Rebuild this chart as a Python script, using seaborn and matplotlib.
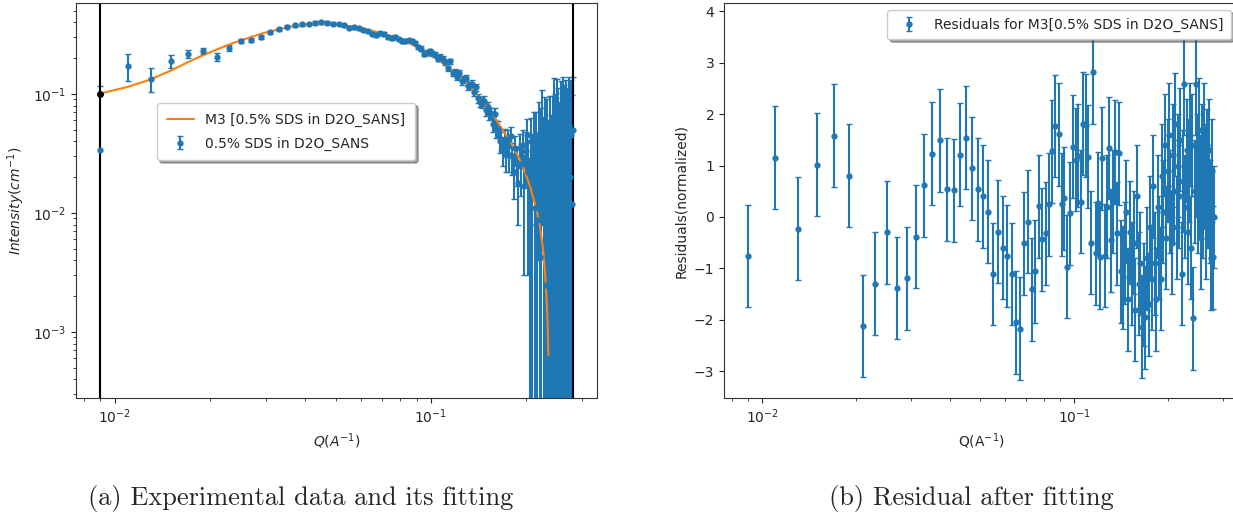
import matplotlib
matplotlib.use("Agg")
import matplotlib.pyplot as plt
import seaborn as sns

# Q grid (1/A) of the measured curve
q = [
    0.009, 0.011, 0.013, 0.015, 0.017, 0.019, 0.021, 0.023, 0.025, 0.027,
    0.029, 0.031, 0.033, 0.035, 0.037, 0.039, 0.041, 0.043, 0.045, 0.047,
    0.049, 0.051, 0.053, 0.055, 0.057, 0.059, 0.061, 0.063, 0.065, 0.067,
    0.069, 0.071, 0.073, 0.075, 0.077, 0.079, 0.081, 0.083, 0.085, 0.087,
    0.089, 0.091, 0.093, 0.095, 0.097, 0.099, 0.101, 0.103, 0.105, 0.107,
    0.109, 0.111, 0.113, 0.115, 0.117, 0.119, 0.121, 0.123, 0.125, 0.127,
    0.129, 0.131, 0.133, 0.135, 0.137, 0.139, 0.141, 0.143, 0.145, 0.147,
    0.149, 0.151, 0.153, 0.155, 0.157, 0.159, 0.161, 0.163, 0.165, 0.167,
    0.169, 0.171, 0.173, 0.175, 0.177, 0.179, 0.181, 0.183, 0.185, 0.187,
    0.189, 0.191, 0.193, 0.195, 0.197, 0.199, 0.201, 0.203, 0.205, 0.207,
    0.209, 0.211, 0.213, 0.215, 0.217, 0.219, 0.221, 0.223, 0.225, 0.227,
    0.229, 0.231, 0.233, 0.235, 0.237, 0.239, 0.241, 0.243, 0.245, 0.247,
    0.249, 0.251, 0.253, 0.255, 0.257, 0.259, 0.261, 0.263, 0.265, 0.267,
    0.269, 0.271, 0.273, 0.275, 0.277, 0.279, 0.281,
]

# measured intensity (1/cm) and its error
intensity = [
    0.034, 0.173, 0.135, 0.189, 0.218, 0.231, 0.206, 0.245, 0.279, 0.284,
    0.303, 0.330, 0.351, 0.368, 0.380, 0.385, 0.388, 0.397, 0.402, 0.397,
    0.390, 0.387, 0.379, 0.362, 0.365, 0.356, 0.347, 0.337, 0.321, 0.313,
    0.323, 0.320, 0.299, 0.295, 0.301, 0.288, 0.281, 0.280, 0.282, 0.279,
    0.269, 0.248, 0.241, 0.219, 0.223, 0.229, 0.220, 0.214, 0.198, 0.206,
    0.198, 0.186, 0.164, 0.188, 0.151, 0.154, 0.139, 0.151, 0.129, 0.133,
    0.137, 0.117, 0.119, 0.122, 0.105, 0.114, 0.092, 0.086, 0.085, 0.088,
    0.074, 0.078, 0.069, 0.069, 0.056, 0.068, 0.051, 0.051, 0.040, 0.042,
    0.034, 0.042, 0.031, 0.041, 0.031, 0.044, 0.030, 0.022, 0.035, 0.026,
    0.018, 0.035, 0.026, 0.037, 0.017, 0.033, 0.045, 0.022, 0.008, 0.040,
    0.020, 0.042, 0.011, 0.035, 0.0087, 0.045, 0.0043, 0.030, 0.058, 0.012,
    0.040, 0.0025, 0.033, 0.00045, 0.035, 0.0032, 0.00039, 0.028, 0.066, 0.030,
    0.020, 0.062, 0.038, 0.010, 0.052, 0.025, 0.060, 0.040, 0.015, 0.050,
    0.030, 0.005, 0.055, 0.020, 0.045, 0.012, 0.050,
]
intensity_err = [
    0.083, 0.045, 0.030, 0.022, 0.018, 0.015, 0.016, 0.013, 0.012, 0.012,
    0.011, 0.011, 0.011, 0.011, 0.011, 0.011, 0.011, 0.011, 0.011, 0.011,
    0.010, 0.010, 0.010, 0.010, 0.010, 0.010, 0.010, 0.010, 0.010, 0.010,
    0.010, 0.010, 0.010, 0.010, 0.010, 0.010, 0.010, 0.010, 0.010, 0.010,
    0.010, 0.010, 0.010, 0.010, 0.010, 0.010, 0.010, 0.010, 0.010, 0.010,
    0.009, 0.009, 0.009, 0.009, 0.009, 0.009, 0.009, 0.009, 0.009, 0.009,
    0.008, 0.008, 0.008, 0.008, 0.008, 0.008, 0.008, 0.008, 0.008, 0.008,
    0.008, 0.008, 0.008, 0.008, 0.008, 0.008, 0.008, 0.008, 0.008, 0.008,
    0.009, 0.009, 0.009, 0.009, 0.009, 0.009, 0.009, 0.009, 0.009, 0.009,
    0.010, 0.011, 0.012, 0.013, 0.014, 0.015, 0.017, 0.019, 0.021, 0.023,
    0.026, 0.029, 0.032, 0.035, 0.038, 0.041, 0.044, 0.047, 0.050, 0.052,
    0.054, 0.056, 0.058, 0.060, 0.062, 0.064, 0.066, 0.068, 0.070, 0.071,
    0.072, 0.073, 0.074, 0.075, 0.076, 0.077, 0.078, 0.079, 0.080, 0.081,
    0.082, 0.083, 0.084, 0.085, 0.086, 0.087, 0.088,
]

# normalized residuals (error is 1 for every point)
residuals = [
    -0.76, 1.15, -0.23, 1.02, 1.58, 0.80, -2.12, -1.30, -0.30, -1.38,
    -1.19, -0.38, 0.62, 1.23, 1.49, 0.54, 0.52, 1.21, 1.54, 0.95,
    0.54, 0.40, 0.10, -1.11, -0.29, -0.60, -0.76, -1.11, -2.05, -2.17,
    -0.51, -0.09, -1.41, -1.06, 0.21, -0.43, -0.32, 0.25, 1.28, 1.77,
    1.61, 0.25, 0.36, -0.97, 0.07, 1.37, 1.11, 1.19, 0.30, 1.81,
    1.78, 1.17, -0.50, 2.81, -0.71, 0.27, -0.78, 1.14, -0.75, 0.20,
    1.34, -0.45, 0.30, 1.27, -0.32, 1.24, -1.06, -1.17, -0.70, 0.10,
    -1.60, -0.30, -1.10, -0.50, -1.80, 0.40, -1.30, -0.90, -2.13, -1.50,
    -1.95, -0.80, -1.70, -0.20, -1.20, 0.60, -0.90, -1.60, 0.20, -0.60,
    -1.20, 0.80, 0.10, 1.40, -0.40, 0.90, 1.60, 0.30, -0.50, 1.20,
    0.50, 1.80, -0.20, 1.00, 0.40, 1.50, -1.10, 0.70, 2.59, 0.20,
    1.30, -0.30, 0.90, 1.60, -0.60, 1.40, -1.97, 0.50, 2.59, 1.00,
    0.30, 1.70, 0.60, -0.40, 1.20, 0.20, 1.60, 0.80, -0.20, 1.10,
    0.40, 1.30, 0.10, -0.80, 0.90, -0.78, 0.00,
]
residual_err = [1.0] * len(residuals)

# fitted model M3 (only the positive part shows on the log axis)
model_q = [0.009, 0.011, 0.013, 0.015, 0.017, 0.019, 0.021, 0.024,
           0.0294, 0.0358, 0.041, 0.0456, 0.051, 0.0582, 0.069, 0.079,
           0.0879, 0.100, 0.112, 0.125, 0.143, 0.161, 0.182, 0.195,
           0.206, 0.215, 0.221, 0.226, 0.2296, 0.232, 0.234, 0.235]
model_i = [0.101, 0.115, 0.133, 0.157, 0.185, 0.212, 0.237, 0.272,
           0.325, 0.368, 0.382, 0.387, 0.383, 0.365, 0.328, 0.292,
           0.258, 0.212, 0.172, 0.136, 0.094, 0.0605, 0.0361, 0.025,
           0.0166, 0.0110, 0.0077, 0.0050, 0.0031, 0.0019, 0.0011, 0.00064]

sns.set_style("ticks")
plt.rcParams["font.family"] = ["DejaVu Sans"]
plt.rcParams["axes.edgecolor"] = "#333333"
blue, orange = sns.color_palette("tab10")[:2]

fig = plt.figure(figsize=(12.33, 5.19), dpi=100)
ax1 = fig.add_axes([0.0616, 0.2331, 0.4226, 0.7611])
ax2 = fig.add_axes([0.5872, 0.2331, 0.4169, 0.7611])

# (a) data and fit
ax1.set_xscale("log")
ax1.set_yscale("log")
ax1.errorbar(q, intensity, yerr=intensity_err, fmt="o", color=blue,
             ms=3.5, capsize=2, label="0.5% SDS in D2O_SANS")
sns.lineplot(x=model_q, y=model_i, ax=ax1, color=orange, lw=1.5,
             sort=False, label="M3 [0.5% SDS in D2O_SANS]")
ax1.axvline(q[0], color="black", lw=1.5)
ax1.axvline(q[-1], color="black", lw=1.5)
ax1.plot(model_q[0], model_i[0], "o", color="black", ms=4)
ax1.set_xlim(0.00753, 0.335)
ax1.set_ylim(2.79e-4, 0.582)
ax1.set_xlabel("$Q(A^{-1})$")
ax1.set_ylabel("$Intensity(cm^{-1})$")
ax1.legend(loc="upper left", bbox_to_anchor=(0.142, 0.765), shadow=True,
           fontsize=10, labelspacing=0.7, borderpad=0.7)

# (b) residuals
ax2.set_xscale("log")
ax2.errorbar(q, residuals, yerr=residual_err, fmt="o", color=blue,
             ms=3.5, capsize=2,
             label="Residuals for M3[0.5% SDS in D2O_SANS]")
ax2.set_xlim(0.00753, 0.335)
ax2.set_ylim(-3.52, 4.16)
ax2.set_xlabel("Q(A$^{-1}$)")
ax2.set_ylabel("Residuals(normalized)")
ax2.legend(loc="upper right", shadow=True, fontsize=10, borderpad=0.55)

for ax in (ax1, ax2):
    ax.tick_params(labelsize=10)
    sns.despine(ax=ax, top=False, right=False)

fig.text(0.244, 0.040, "(a) Experimental data and its fitting",
         ha="center", va="center", fontsize=19, family="cmr10")
fig.text(0.788, 0.040, "(b) Residual after fitting",
         ha="center", va="center", fontsize=19, family="cmr10")

fig.savefig("out.png", dpi=100)
